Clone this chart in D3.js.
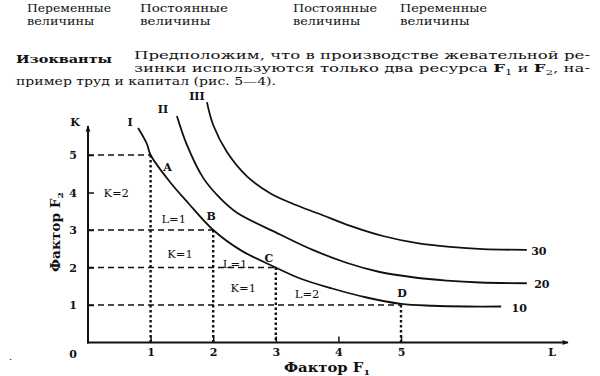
<!DOCTYPE html>
<html>
<head>
<meta charset="utf-8">
<script src="https://cdn.jsdelivr.net/npm/d3@7"></script>
<style>
  body { margin: 0; background: #fff; }
  svg text { font-family: "DejaVu Serif", "Liberation Serif", serif; fill: #111; }
</style>
</head>
<body>
<script>
// isoquant curves (factor F1, factor F2)
const curveI = [[0.8, 5.72], [0.94, 5.3], [1, 5], [1.3, 4.3], [1.6, 3.72], [2, 3], [2.45, 2.45],
  [3, 2], [3.4, 1.7], [3.9, 1.44], [4.45, 1.2], [5, 1.03], [5.5, 0.98], [6.05, 0.96], [6.6, 0.96]]
const curveII = [[1.42, 6.04], [1.58, 5.27], [1.84, 4.39], [2.11, 3.85], [2.38, 3.46],
  [3.07, 2.88], [3.59, 2.47], [4.14, 2.12], [4.66, 1.88], [5.19, 1.74], [5.73, 1.65], [6.26, 1.6], [7.01, 1.58]]
const curveIII = [[1.9, 6.41], [2.0, 5.8], [2.22, 5.08], [2.54, 4.43], [2.91, 3.98], [3.27, 3.7],
  [3.71, 3.42], [4.19, 3.11], [4.71, 2.84], [5.26, 2.65], [5.78, 2.55], [6.31, 2.49], [7.01, 2.47]]
const curveNames = ['I', 'II', 'III']
const outputs = ['10', '20', '30']
const points = [[1, 5], [2, 3], [3, 2], [5, 1]]
const pointNames = ['A', 'B', 'C', 'D']
const ticks = [1, 2, 3, 4, 5]

const width = 600
const height = 376
const svg = d3.select('body').append('svg')
  .attr('width', width)
  .attr('height', height)

const x = d3.scaleLinear().domain([0, 5]).range([88, 401])
const y = d3.scaleLinear().domain([0, 5]).range([342.5, 155])

// text above the chart
const header = svg.append('g').style('font-size', '11.5px')
const heads = [['Переменные', 27, 84], ['Постоянные', 140, 88], ['Постоянные', 293, 84], ['Переменные', 400, 87]]
heads.forEach(h => {
  header.append('text').attr('x', h[1]).attr('y', 12).attr('textLength', h[2])
    .attr('lengthAdjust', 'spacingAndGlyphs').text(h[0])
  header.append('text').attr('x', h[1]).attr('y', 25).attr('textLength', h[2] * 0.8)
    .attr('lengthAdjust', 'spacingAndGlyphs').text('величины')
})
header.append('text').attr('x', 16).attr('y', 63).style('font-weight', 'bold')
  .attr('textLength', 96).attr('lengthAdjust', 'spacingAndGlyphs').text('Изокванты')
header.append('text').attr('x', 134).attr('y', 59).attr('textLength', 456)
  .attr('lengthAdjust', 'spacingAndGlyphs')
  .text('Предположим, что в производстве жевательной ре-')
const l2 = header.append('text').attr('x', 134).attr('y', 72).attr('textLength', 456)
  .attr('lengthAdjust', 'spacingAndGlyphs')
l2.append('tspan').text('зинки используются только два ресурса ')
l2.append('tspan').style('font-weight', 'bold').text('F')
l2.append('tspan').attr('dy', 3).style('font-size', '8px').text('1')
l2.append('tspan').attr('dy', -3).text(' и ')
l2.append('tspan').style('font-weight', 'bold').text('F')
l2.append('tspan').attr('dy', 3).style('font-size', '8px').text('2')
l2.append('tspan').attr('dy', -3).text(', на-')
header.append('text').attr('x', 16).attr('y', 85).attr('textLength', 260)
  .attr('lengthAdjust', 'spacingAndGlyphs')
  .text('пример труд и капитал (рис. 5—4).')

// guide lines
svg.append('g').selectAll('line').data(points).join('line')
  .attr('x1', x(0)).attr('x2', d => x(d[0]))
  .attr('y1', d => y(d[1])).attr('y2', d => y(d[1]))
  .attr('stroke', '#111').attr('stroke-width', 1.6).attr('stroke-dasharray', '6,4')
svg.append('g').selectAll('line').data(points).join('line')
  .attr('x1', d => x(d[0])).attr('x2', d => x(d[0]))
  .attr('y1', d => y(d[1])).attr('y2', y(0))
  .attr('stroke', '#111').attr('stroke-width', 2.4).attr('stroke-dasharray', '2.5,2.5')

// axes
const defs = svg.append('defs')
defs.append('marker').attr('id', 'arr').attr('viewBox', '0 0 10 10')
  .attr('refX', 9).attr('refY', 5).attr('markerWidth', 8).attr('markerHeight', 6)
  .attr('orient', 'auto').attr('markerUnits', 'userSpaceOnUse')
  .append('path').attr('d', 'M0,1 L10,5 L0,9 Z').attr('fill', '#111')

const yAxis = svg.append('g').attr('transform', `translate(${x(0)},0)`)
  .call(d3.axisLeft(y).tickValues(ticks).tickFormat(d3.format('d'))
    .tickSizeInner(-6).tickSizeOuter(0).tickPadding(11))
const xAxis = svg.append('g').attr('transform', `translate(0,${y(0)})`)
  .call(d3.axisBottom(x).tickValues(ticks).tickFormat(d3.format('d'))
    .tickSizeInner(-6).tickSizeOuter(0).tickPadding(6))
;[yAxis, xAxis].forEach(a => {
  a.select('.domain').remove()
  a.selectAll('line').attr('stroke', '#111').attr('stroke-width', 1.5)
  a.selectAll('text').style('font-family', '"DejaVu Serif", serif').style('font-size', '11px')
    .style('font-weight', 'bold').attr('fill', '#111')
})
svg.append('line').attr('x1', x(0)).attr('y1', y(0) + 1).attr('x2', x(0)).attr('y2', 126)
  .attr('stroke', '#111').attr('stroke-width', 2).attr('marker-end', 'url(#arr)')
svg.append('line').attr('x1', x(0) - 1).attr('y1', y(0)).attr('x2', 568).attr('y2', y(0))
  .attr('stroke', '#111').attr('stroke-width', 2).attr('marker-end', 'url(#arr)')

const lab = svg.append('g').style('font-size', '11px').style('font-weight', 'bold')
  .attr('text-anchor', 'middle')
lab.append('text').attr('x', 73).attr('y', 358).text('0')
lab.append('text').attr('x', 75).attr('y', 126).text('K')
lab.append('text').attr('x', 552).attr('y', 356).text('L')

// axis titles
const xt = svg.append('text').attr('x', 284).attr('y', 372)
  .attr('textLength', 86).attr('lengthAdjust', 'spacingAndGlyphs')
  .style('font-size', '12.5px').style('font-weight', 'bold')
xt.append('tspan').text('Фактор  F')
xt.append('tspan').attr('dy', 3).style('font-size', '8px').text('1')
const yt = svg.append('text').attr('transform', 'translate(60,272) rotate(-90)')
  .attr('textLength', 80).attr('lengthAdjust', 'spacingAndGlyphs')
  .style('font-size', '12px').style('font-weight', 'bold')
yt.append('tspan').text('Фактор F')
yt.append('tspan').attr('dy', 3).style('font-size', '8px').text('2')

// isoquants
const line = d3.line().x(d => x(d[0])).y(d => y(d[1])).curve(d3.curveCatmullRom.alpha(0.5))
const curves = [curveI, curveII, curveIII]
svg.append('g').selectAll('path').data(curves).join('path')
  .attr('d', line).attr('fill', 'none').attr('stroke', '#111').attr('stroke-width', 1.8)

const nameOff = [[-8, -2], [-14, -3], [-10, -2]]
lab.selectAll('.cn').data(curves).join('text').attr('class', 'cn')
  .attr('x', (d, i) => x(d[0][0]) + nameOff[i][0])
  .attr('y', (d, i) => y(d[0][1]) + nameOff[i][1])
  .text((d, i) => curveNames[i])
const outOff = [18, 15, 12]
lab.selectAll('.co').data(curves).join('text').attr('class', 'co')
  .attr('x', (d, i) => x(d[d.length - 1][0]) + outOff[i])
  .attr('y', d => y(d[d.length - 1][1]) + 5)
  .text((d, i) => outputs[i])

// point letters
const pOff = [[17, 16], [-2, -10], [-7, -6], [1, -8]]
lab.selectAll('.pn').data(points).join('text').attr('class', 'pn')
  .attr('x', (d, i) => x(d[0]) + pOff[i][0])
  .attr('y', (d, i) => y(d[1]) + pOff[i][1])
  .text((d, i) => pointNames[i])

// changes between the points
const steps = [['K=2', 0.45, 4], ['L=1', 1.37, 3.3], ['K=1', 1.47, 2.35], ['L=1', 2.35, 2.1],
  ['K=1', 2.48, 1.45], ['L=2', 3.5, 1.3]]
lab.selectAll('.st').data(steps).join('text').attr('class', 'st')
  .style('font-weight', 'normal').style('font-size', '11.5px')
  .attr('x', d => x(d[1])).attr('y', d => y(d[2]) + 4)
  .text(d => d[0])

svg.append('text').attr('x', 9).attr('y', 360).style('font-size', '10px').text('.')
</script>
</body>
</html>
